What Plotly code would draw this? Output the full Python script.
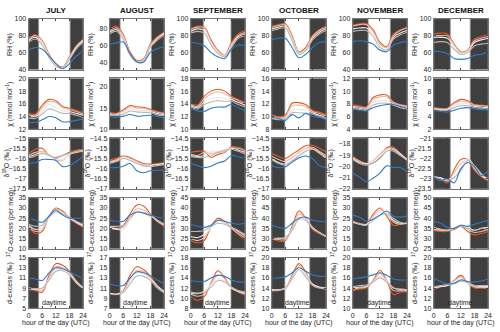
import plotly.graph_objects as go

HOURS = [0, 3, 6, 9, 12, 15, 18, 21, 24]
MONTHS = ["JULY", "AUGUST", "SEPTEMBER", "OCTOBER", "NOVEMBER", "DECEMBER"]
SUNRISE = [4.4, 4.6, 5.6, 5.8, 6.8, 7.3]
SUNSET = [18.3, 18.4, 17.8, 16.8, 16.6, 16.1]

# each block: [orange, salmon, light, gray, blue]
RH_JUL = [[77, 81, 74, 58, 47, 43, 55, 68, 76], [75, 80, 73, 57, 46, 42, 54, 67, 75],
          [74, 78, 71, 55, 45, 42, 53, 66, 74], [72, 76, 69, 54, 44, 42, 52, 64, 72],
          [63, 66, 64, 56, 47, 41, 47, 56, 62]]
RH_AUG = [[79, 83, 73, 52, 42, 44, 62, 70, 76], [77, 81, 71, 50, 41, 43, 60, 69, 75],
          [76, 79, 69, 49, 40, 42, 59, 68, 74], [74, 77, 67, 48, 40, 41, 58, 66, 72],
          [61, 63, 64, 50, 40, 40, 52, 56, 59]]
RH_SEP = [[88, 91, 90, 75, 63, 57, 72, 82, 86], [87, 90, 89, 73, 62, 56, 70, 80, 84],
          [85, 88, 86, 71, 60, 56, 68, 79, 82], [83, 85, 83, 69, 59, 55, 66, 77, 80],
          [72, 71, 68, 60, 55, 53, 64, 69, 68]]
RH_OCT = [[91, 93, 94, 80, 61, 66, 80, 87, 91], [90, 92, 93, 78, 60, 64, 79, 86, 90],
          [88, 90, 91, 76, 59, 63, 77, 84, 88], [86, 88, 89, 74, 58, 62, 75, 82, 86],
          [75, 77, 77, 66, 54, 58, 66, 72, 73]]
RH_NOV = [[92, 94, 94, 87, 72, 67, 82, 87, 90], [91, 93, 93, 85, 70, 66, 80, 86, 89],
          [88, 89, 89, 82, 68, 64, 78, 83, 86], [85, 86, 86, 79, 66, 63, 76, 81, 84],
          [73, 74, 73, 70, 63, 61, 69, 72, 73]]
RH_DEC = [[82, 83, 82, 70, 61, 63, 76, 79, 81], [80, 80, 80, 69, 60, 62, 74, 77, 79],
          [78, 78, 77, 67, 59, 61, 72, 75, 77], [72, 73, 72, 64, 58, 60, 68, 70, 71],
          [62, 61, 59, 53, 52, 53, 57, 58, 61]]

CHI_JUL = [[14.5, 14.4, 15.8, 16.7, 16.5, 15.6, 15.3, 15.0, 14.6], [14.3, 14.2, 15.4, 16.4, 16.2, 15.4, 15.1, 14.8, 14.4],
           [14.1, 14.0, 14.8, 15.9, 15.4, 14.9, 14.8, 14.5, 14.2], [13.8, 13.7, 14.4, 15.2, 14.9, 14.5, 14.5, 14.2, 13.9],
           [13.1, 13.1, 13.5, 14.0, 13.8, 13.2, 13.2, 13.4, 13.6]]
CHI_AUG = [[14.0, 13.8, 14.6, 15.6, 15.3, 15.2, 14.7, 14.2, 13.9], [13.8, 13.6, 14.3, 15.3, 15.0, 14.9, 14.5, 14.0, 13.7],
           [13.5, 13.4, 14.0, 14.8, 14.5, 14.4, 14.2, 13.7, 13.5], [13.3, 13.2, 13.6, 14.3, 14.1, 14.0, 13.9, 13.4, 13.2],
           [13.0, 12.8, 13.1, 13.5, 13.1, 13.2, 13.3, 13.0, 12.7]]
CHI_SEP = [[14.1, 13.8, 15.2, 16.0, 16.3, 16.0, 15.2, 14.7, 14.2], [13.9, 13.6, 14.8, 15.6, 15.9, 15.6, 15.0, 14.5, 14.0],
           [13.7, 13.4, 14.3, 14.8, 15.0, 14.9, 14.7, 14.2, 13.8], [13.5, 13.2, 13.9, 14.3, 14.5, 14.4, 14.4, 13.9, 13.5],
           [13.3, 12.9, 12.8, 13.3, 13.5, 13.5, 13.9, 13.4, 12.9]]
CHI_OCT = [[10.3, 10.0, 10.2, 12.1, 12.2, 11.9, 11.0, 10.7, 10.3], [10.1, 9.8, 10.0, 11.7, 11.8, 11.6, 10.8, 10.5, 10.1],
           [9.9, 9.6, 9.8, 11.0, 11.1, 11.0, 10.6, 10.2, 9.9], [9.7, 9.5, 9.6, 10.6, 10.6, 10.5, 10.4, 10.0, 9.7],
           [9.9, 9.7, 9.4, 10.3, 9.8, 10.5, 10.0, 9.9, 9.5]]
CHI_NOV = [[7.8, 7.7, 7.5, 9.0, 9.4, 9.4, 8.3, 7.9, 7.7], [7.6, 7.5, 7.4, 8.7, 9.1, 9.1, 8.2, 7.8, 7.6],
           [7.4, 7.3, 7.2, 8.2, 8.5, 8.5, 8.0, 7.6, 7.4], [7.2, 7.1, 7.0, 7.8, 8.1, 8.1, 7.8, 7.4, 7.2],
           [7.2, 7.0, 6.9, 7.4, 7.7, 7.9, 7.9, 7.6, 7.3]]
CHI_DEC = [[5.4, 5.3, 5.3, 6.2, 6.7, 6.5, 5.9, 5.8, 5.7], [5.3, 5.2, 5.2, 6.0, 6.4, 6.3, 5.8, 5.7, 5.6],
           [5.2, 5.1, 5.1, 5.7, 6.0, 6.0, 5.6, 5.5, 5.4], [5.1, 5.0, 5.0, 5.4, 5.7, 5.7, 5.4, 5.3, 5.2],
           [5.0, 4.8, 4.7, 5.0, 5.3, 5.4, 5.2, 5.1, 5.0]]

D18_JUL = [[-15.75, -15.55, -15.5, -15.85, -15.95, -15.85, -15.7, -15.58, -15.55],
           [-15.85, -15.7, -15.65, -15.8, -16.05, -16.1, -15.8, -15.65, -15.6],
           [-15.92, -15.8, -15.7, -15.85, -16.0, -16.05, -15.8, -15.7, -15.62],
           [-15.98, -15.88, -15.75, -15.85, -16.0, -15.85, -15.75, -15.68, -15.65],
           [-16.25, -16.2, -16.05, -16.05, -16.1, -16.4, -16.35, -16.15, -15.9]]
D18_AUG = [[-15.58, -15.48, -15.38, -15.45, -15.62, -15.75, -15.78, -15.75, -15.7],
           [-15.65, -15.55, -15.42, -15.5, -15.7, -15.82, -15.82, -15.78, -15.74],
           [-15.7, -15.6, -15.45, -15.55, -15.7, -15.9, -15.85, -15.8, -15.76],
           [-15.75, -15.65, -15.5, -15.6, -15.75, -15.85, -15.9, -15.85, -15.8],
           [-15.95, -15.95, -15.88, -15.75, -16.1, -16.2, -16.1, -16.08, -16.08]]
D18_SEP = [[-15.2, -15.15, -15.15, -15.45, -15.3, -15.2, -14.92, -14.95, -15.05],
           [-15.3, -15.35, -15.2, -15.25, -15.2, -15.15, -14.98, -15.0, -15.12],
           [-15.35, -15.4, -15.35, -15.15, -15.15, -15.1, -15.0, -15.08, -15.2],
           [-15.4, -15.45, -15.45, -15.35, -15.2, -15.1, -15.05, -15.15, -15.28],
           [-15.75, -15.85, -15.95, -15.88, -15.72, -15.62, -15.35, -15.42, -15.52]]
D18_OCT = [[-15.25, -15.4, -15.5, -15.3, -15.08, -14.88, -14.85, -15.0, -15.18],
           [-15.4, -15.55, -15.65, -15.45, -15.2, -15.0, -14.95, -15.15, -15.35],
           [-15.5, -15.7, -15.78, -15.55, -15.3, -15.1, -15.02, -15.2, -15.45],
           [-15.55, -15.75, -15.82, -15.62, -15.38, -15.15, -15.05, -15.25, -15.5],
           [-15.85, -15.95, -15.92, -15.68, -15.48, -15.38, -15.5, -15.85, -15.95]]
D18_NOV = [[-19.1, -19.5, -19.75, -19.7, -19.2, -18.35, -18.3, -18.9, -19.45],
           [-19.2, -19.55, -19.75, -19.5, -18.9, -18.45, -18.4, -18.85, -19.4],
           [-19.3, -19.65, -19.8, -19.55, -19.1, -18.5, -18.5, -18.95, -19.4],
           [-19.4, -19.75, -19.9, -19.7, -19.3, -18.65, -18.65, -19.05, -19.45],
           [-20.6, -20.95, -21.35, -21.05, -20.6, -19.95, -20.1, -20.1, -20.5]]
D18_DEC = [[-22.95, -23.0, -23.2, -22.55, -22.05, -22.05, -22.6, -22.9, -23.1],
           [-22.95, -22.95, -23.1, -22.7, -22.25, -22.05, -22.5, -22.85, -23.05],
           [-22.9, -22.95, -23.05, -22.9, -22.45, -22.0, -22.4, -22.8, -23.0],
           [-22.88, -23.0, -23.1, -22.95, -22.6, -22.1, -22.35, -22.75, -23.05],
           [-22.9, -23.1, -23.0, -23.2, -22.5, -22.2, -22.4, -22.85, -22.6]]

O17_JUL = [[20.5, 17.5, 18.5, 26, 30, 28.5, 25, 22.5, 20.5], [21, 18.5, 19.5, 26, 29.5, 28, 25, 23, 21],
           [21.5, 19.5, 20.5, 25.5, 28.5, 27.5, 25.2, 23, 21.5], [22, 21, 21.5, 25.5, 28, 27, 25.5, 23.5, 22],
           [25, 24, 23, 26, 29, 26.5, 25, 25, 25]]
O17_AUG = [[20, 19.5, 21.5, 27, 31.5, 31, 27, 23.5, 21], [20.5, 20, 20.5, 25.5, 29.5, 29, 26.5, 23.5, 21.5],
           [20.5, 19.5, 19.5, 24, 28, 28, 26.5, 24, 22], [21, 21, 21.5, 25, 28, 27.5, 26, 24, 22],
           [24, 23.5, 23.5, 26.5, 28, 27.5, 26.5, 25.5, 25]]
O17_SEP = [[24, 22.8, 24, 31, 35, 33.5, 30, 27, 24.5], [25, 24, 25.5, 30.5, 34, 33, 30, 27.5, 25.5],
           [26, 25.5, 27, 30.5, 33, 32.5, 30.5, 28.5, 26.5], [28.5, 28.5, 29, 31, 32.5, 32, 30.5, 29, 27],
           [32, 31, 30.5, 31.5, 34, 33.5, 32.5, 32, 32.5]]
O17_OCT = [[30, 28.8, 29, 36, 43.5, 40, 34.5, 32.5, 31], [30, 29.5, 29.5, 35, 42, 40, 35, 33, 31],
           [30, 30, 30.5, 34.5, 40.5, 39.5, 35.5, 33, 31], [30, 30.2, 30.5, 34, 39.5, 39, 35.5, 33, 31],
           [36.5, 35.5, 35, 37.5, 40, 40.5, 39, 38.5, 38]]
O17_NOV = [[23.5, 22.5, 22, 27, 30, 26, 21.5, 22, 22.5], [23.2, 22.3, 22, 26, 29, 27.5, 23, 22, 22.5],
           [23, 22, 21.8, 25, 28, 27.5, 24, 22.5, 22.5], [23.5, 22, 21.5, 24, 26.5, 27, 25, 23, 22.5],
           [26.5, 25.5, 23.5, 24.5, 26.5, 28.5, 26, 25.5, 26]]
O17_DEC = [[34, 33.5, 33.5, 34.5, 36, 33.5, 31.8, 32.5, 33.5], [34.5, 34, 34, 35, 36.5, 34.5, 33, 33.5, 34.5],
           [35, 34.5, 34, 35, 37, 35.5, 34, 35, 35.5], [35.5, 34.5, 34, 35, 36, 35, 34, 35, 35],
           [38.5, 37.5, 35.5, 35, 36.5, 36, 37, 38, 39]]

DX_JUL = [[8.8, 8.5, 8.2, 11.5, 13.8, 13.5, 12.3, 10.5, 9.0], [8.9, 8.7, 8.5, 11.0, 13.2, 13.0, 12.0, 10.3, 9.0],
          [9.0, 8.8, 8.9, 10.8, 12.6, 12.7, 11.8, 10.2, 9.1], [9.0, 8.9, 9.0, 10.6, 12.3, 12.4, 11.6, 10.0, 8.9],
          [11.0, 10.8, 10.5, 12.0, 13.0, 12.8, 12.2, 11.5, 10.9]]
DX_AUG = [[10.0, 9.8, 10.5, 13.5, 15.2, 14.6, 13.3, 11.5, 10.2], [10.0, 9.8, 10.3, 12.8, 14.5, 14.2, 13.0, 11.5, 10.4],
          [10.0, 9.8, 10.3, 12.3, 13.9, 13.8, 12.8, 11.3, 10.3], [9.9, 9.7, 10.1, 11.8, 13.4, 13.3, 12.5, 11.0, 10.1],
          [11.8, 11.5, 11.5, 13.0, 14.2, 14.0, 13.4, 12.6, 11.9]]
DX_SEP = [[10.3, 9.6, 10.3, 13.0, 15.4, 14.0, 12.0, 11.2, 10.6], [10.8, 10.4, 10.8, 12.8, 14.6, 13.8, 12.0, 11.3, 10.9],
          [11.0, 10.9, 11.4, 12.6, 13.9, 13.4, 12.0, 11.4, 11.0], [11.2, 11.0, 11.2, 12.2, 13.5, 13.2, 12.2, 11.5, 11.2],
          [13.5, 13.3, 13.3, 14.0, 14.5, 14.3, 13.6, 13.2, 13.2]]
DX_OCT = [[13.5, 13.5, 14.0, 16.5, 18.8, 17.2, 14.5, 14.0, 13.9], [13.6, 13.6, 14.0, 16.2, 18.4, 17.0, 14.7, 14.1, 13.9],
          [13.7, 13.7, 14.0, 16.0, 18.0, 16.6, 14.8, 14.2, 14.0], [13.5, 13.6, 13.9, 15.8, 17.6, 16.2, 14.6, 14.0, 13.8],
          [16.0, 16.0, 16.2, 17.0, 18.0, 17.3, 16.6, 16.3, 16.3]]
DX_NOV = [[13.5, 13.8, 14.0, 15.5, 17.5, 15.5, 12.7, 13.2, 13.3], [13.8, 14.0, 14.2, 15.4, 16.8, 15.5, 13.5, 13.5, 13.5],
          [14.0, 14.2, 14.3, 15.3, 16.3, 15.4, 14.0, 13.8, 13.7], [14.2, 14.5, 14.6, 15.2, 16.0, 15.2, 14.0, 13.7, 13.7],
          [15.8, 16.0, 16.2, 16.6, 17.0, 16.5, 15.8, 15.6, 15.6]]
DX_DEC = [[13.7, 14.2, 14.5, 15.5, 16.5, 15.0, 14.0, 14.0, 14.0], [13.9, 14.3, 14.5, 15.4, 16.2, 15.0, 14.2, 14.1, 14.1],
          [14.0, 14.3, 14.5, 15.2, 15.8, 15.0, 14.4, 14.3, 14.3], [14.2, 14.5, 14.7, 15.0, 15.3, 15.1, 14.5, 14.5, 14.5],
          [16.0, 15.3, 14.8, 14.9, 15.6, 15.3, 15.2, 15.4, 15.8]]

Y_TITLES = ["RH (%)", "χ (mmol mol<sup>-1</sup>)", "δ<sup>18</sup>O (‰)",
            "<sup>17</sup>O-excess (per meg)", "d-excess (‰)"]
X_TITLE = "hour of the day (UTC)"

RH_RANGES = [[40, 100], [31, 92], [40, 100], [40, 100], [40, 100], [40, 100]]
RH_TICKS = [[40, 60, 80, 100], [40, 60, 80], [40, 60, 80, 100], [40, 60, 80, 100], [40, 60, 80, 100], [40, 60, 80, 100]]
CHI_RANGES = [[12, 20], [10, 22], [10, 18], [8, 16], [4, 12], [2, 10]]
CHI_TICKS = [[12, 14, 16, 18, 20], [10, 15, 20], [10, 12, 14, 16, 18], [8, 10, 12, 14, 16], [4, 6, 8, 10, 12], [2, 4, 6, 8, 10]]
D18_RANGES = [[-17.5, -15], [-17, -14.5], [-17, -14.5], [-17, -14.5], [-22, -17.5], [-23.5, -21]]
D18_TICKS = [[-17.5, -17, -16.5, -16, -15.5, -15], [-17, -16.5, -16, -15.5, -15, -14.5],
             [-17, -16.5, -16, -15.5, -15, -14.5], [-17, -16.5, -16, -15.5, -15, -14.5],
             [-22, -21, -20, -19, -18], [-23.5, -23, -22.5, -22, -21.5, -21]]
O17_RANGES = [[10, 35], [10, 35], [20, 45], [25, 50], [10, 35], [25, 50]]
O17_TICKS = [[10, 15, 20, 25, 30, 35], [10, 15, 20, 25, 30, 35], [20, 25, 30, 35, 40, 45],
             [25, 30, 35, 40, 45, 50], [10, 15, 20, 25, 30, 35], [25, 30, 35, 40, 45, 50]]
DX_RANGES = [[5, 15], [7, 17], [8, 18], [10, 20], [10, 20], [10, 20]]
DX_TICKS = [[5, 7, 9, 11, 13, 15], [7, 9, 11, 13, 15, 17], [8, 10, 12, 14, 16, 18],
            [10, 12, 14, 16, 18, 20], [10, 12, 14, 16, 18, 20], [10, 12, 14, 16, 18, 20]]
X_TICKS = [0, 6, 12, 18, 24]

ROWS = [
    [RH_JUL, RH_AUG, RH_SEP, RH_OCT, RH_NOV, RH_DEC],
    [CHI_JUL, CHI_AUG, CHI_SEP, CHI_OCT, CHI_NOV, CHI_DEC],
    [D18_JUL, D18_AUG, D18_SEP, D18_OCT, D18_NOV, D18_DEC],
    [O17_JUL, O17_AUG, O17_SEP, O17_OCT, O17_NOV, O17_DEC],
    [DX_JUL, DX_AUG, DX_SEP, DX_OCT, DX_NOV, DX_DEC],
]
RANGES = [RH_RANGES, CHI_RANGES, D18_RANGES, O17_RANGES, DX_RANGES]
TICKS = [RH_TICKS, CHI_TICKS, D18_TICKS, O17_TICKS, DX_TICKS]

COLORS = ["#DD5B29", "#F3B49C", "#E8E8E8", "#B8B8B8", "#2D7BC4"]
NIGHT = "#3f3f3f"
W, H = 500, 332
FONT = "Liberation Sans, Arial, sans-serif"
TITLE_OFFSET = [19, 19, 22, 19, 19]

fig = go.Figure()
layout = dict(width=W, height=H, margin=dict(l=0, r=0, t=0, b=0),
              paper_bgcolor="white", plot_bgcolor="white", showlegend=False,
              font=dict(family=FONT, size=7, color="#262626"))
shapes = []
annotations = []

for r in range(5):
    for c in range(6):
        idx = r * 6 + c + 1
        xa = "xaxis" if idx == 1 else f"xaxis{idx}"
        ya = "yaxis" if idx == 1 else f"yaxis{idx}"
        xr = "x" if idx == 1 else f"x{idx}"
        yr = "y" if idx == 1 else f"y{idx}"
        x0 = 27 + 82 * c
        y0 = 15 + 61 * r
        layout[xa] = dict(domain=[x0 / W, (x0 + 55) / W], anchor=yr, range=[0, 24],
                          tickvals=X_TICKS, showticklabels=(r == 4), ticks="inside",
                          ticklen=2, tickcolor="#444", showline=True, linecolor="#777",
                          linewidth=1, mirror="allticks", showgrid=False, zeroline=False,
                          tickfont=dict(size=7), layer="above traces")
        layout[ya] = dict(domain=[1 - (y0 + 52) / H, 1 - y0 / H], anchor=xr,
                          range=RANGES[r][c], tickvals=TICKS[r][c], ticks="inside",
                          ticklen=2, tickcolor="#444", showline=True, linecolor="#777",
                          linewidth=1, mirror="allticks", showgrid=False, zeroline=False,
                          tickfont=dict(size=7), layer="above traces")
        annotations.append(dict(text=Y_TITLES[r], xref="paper", yref="paper",
                                x=(x0 - TITLE_OFFSET[r]) / W, y=1 - (y0 + 26) / H,
                                textangle=-90, showarrow=False, xanchor="center", yanchor="middle",
                                font=dict(size=7, color="#262626")))
        for (a, b) in [(0, SUNRISE[c]), (SUNSET[c], 24)]:
            shapes.append(dict(type="rect", xref=xr, yref=f"{yr} domain", x0=a, x1=b, y0=0, y1=1,
                               fillcolor=NIGHT, line=dict(color="#9a9a9a", width=0.8), layer="below"))
        data = ROWS[r][c]
        for s in range(5):
            fig.add_trace(go.Scatter(x=HOURS, y=data[s], mode="lines", xaxis=xr, yaxis=yr,
                                     line=dict(color=COLORS[s], width=1.1, shape="spline", smoothing=1.0),
                                     hoverinfo="skip"))
        if r == 0:
            annotations.append(dict(text=f"<b>{MONTHS[c]}</b>", xref="paper", yref="paper",
                                    x=(x0 + 27.5) / W, y=1 - 7 / H, showarrow=False,
                                    font=dict(size=8, color="#111"), xanchor="center", yanchor="middle"))
        if r == 4:
            annotations.append(dict(text="daytime", xref=xr, yref=f"{yr} domain",
                                    x=(SUNRISE[c] + SUNSET[c]) / 2, y=0.1, showarrow=False,
                                    font=dict(size=7, color="#222"), xanchor="center", yanchor="middle"))
            annotations.append(dict(text=X_TITLE, xref="paper", yref="paper",
                                    x=(x0 + 27.5) / W, y=0, showarrow=False, yshift=0,
                                    font=dict(size=7, color="#262626"), xanchor="center", yanchor="bottom"))

layout["shapes"] = shapes
layout["annotations"] = annotations
fig.update_layout(**layout)
fig.write_html("out.html")
